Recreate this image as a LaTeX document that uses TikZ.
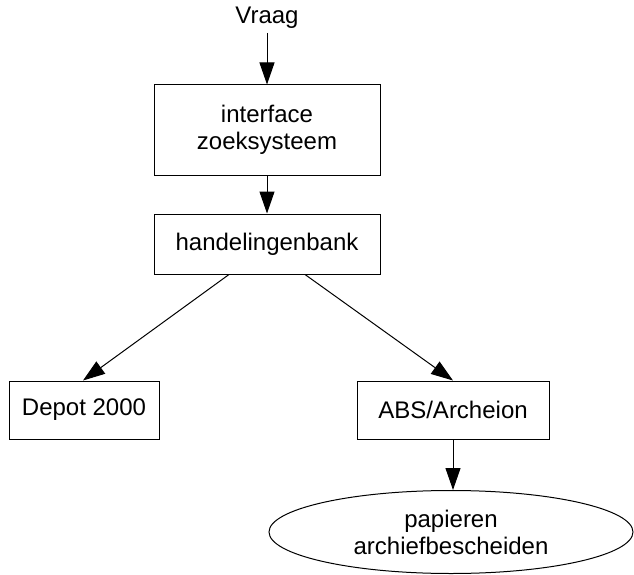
\documentclass[tikz,border=0pt]{standalone}
\usepackage{fontspec}
\setmainfont{Liberation Sans}
\usetikzlibrary{arrows.meta,shapes.geometric}
\begin{document}
\begin{tikzpicture}[x=1pt,y=-1pt,
  every node/.style={font=\fontsize{24}{27}\selectfont, align=center, inner sep=0pt},
  box/.style={draw, line width=1pt, rectangle},
  conn/.style={line width=1pt, -{Triangle[length=22pt,width=15pt]}}]
\useasboundingbox (0,0) rectangle (634,575);
\node (vraag) at (267,18) {Vraag};
\node[box, minimum width=226pt, minimum height=90pt] (iface) at (267,130) {interface\\zoeksysteem};
\node[box, minimum width=226pt, minimum height=60pt] (hbank) at (267,244) {handelingenbank};
\node[box, minimum width=150pt, minimum height=58pt] (depot) at (84,410) {Depot 2000};
\node[box, minimum width=192pt, minimum height=58pt] (abs) at (453,410) {ABS/Archeion};
\node[draw, line width=1pt, ellipse, minimum width=364pt, minimum height=83pt] (pap) at (451,532) {papieren\\archiefbescheiden};
\draw[conn] (vraag.south) ++(0,4) -- (iface.north);
\draw[conn] (iface.south) -- (hbank.north);
\draw[conn] ([xshift=-38pt]hbank.south) -- ([xshift=-1pt]depot.north);
\draw[conn] ([xshift=38pt]hbank.south) -- (abs.north);
\draw[conn] (abs.south) -- (abs.south |- pap.north);
\end{tikzpicture}
\end{document}
